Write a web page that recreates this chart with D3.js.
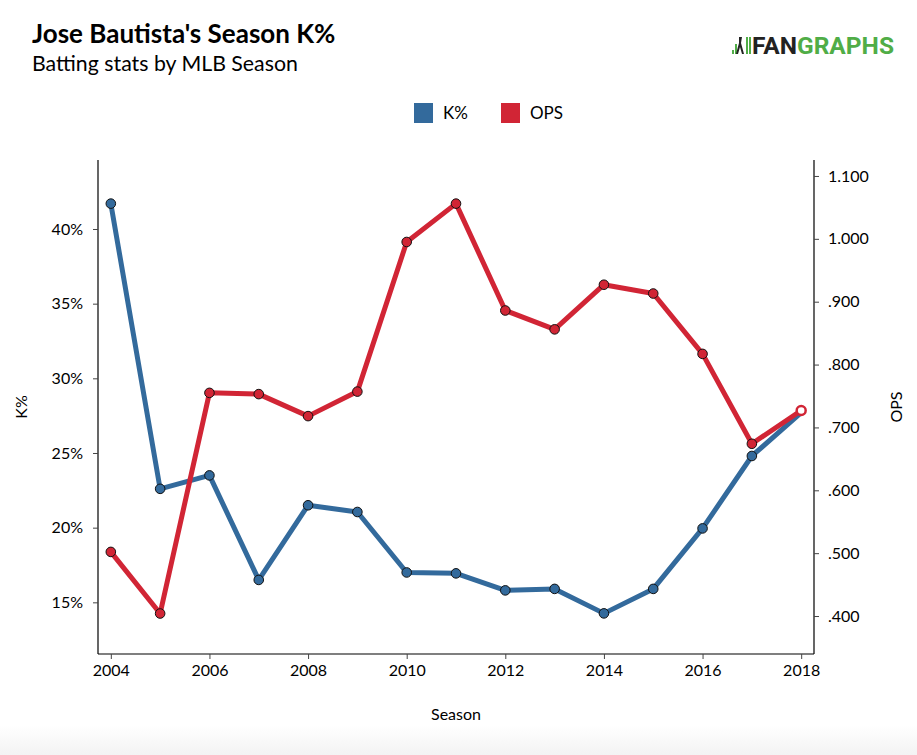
<!DOCTYPE html>
<html>
<head>
<meta charset="utf-8">
<script src="https://cdn.jsdelivr.net/npm/d3@7"></script>
<style>
  html, body { margin: 0; padding: 0; background: #fff; }
  svg { display: block; font-family: Lato, "Open Sans", sans-serif; }
</style>
</head>
<body>
<svg id="chart" width="917" height="755"></svg>
<script>
const seasons = [2004, 2005, 2006, 2007, 2008, 2009, 2010, 2011, 2012, 2013, 2014, 2015, 2016, 2017, 2018];
const kPct = [41.7, 22.6, 23.5, 16.5, 21.5, 21.05, 17.0, 16.94, 15.8, 15.9, 14.26, 15.9, 19.95, 24.8, 27.7];
const ops = [0.502, 0.404, 0.755, 0.753, 0.718, 0.757, 0.995, 1.056, 0.886, 0.856, 0.927, 0.913, 0.817, 0.674, 0.727];
const xTicks = [2004, 2006, 2008, 2010, 2012, 2014, 2016, 2018];
const kTicks = [15, 20, 25, 30, 35, 40];
const opsTicks = [0.4, 0.5, 0.6, 0.7, 0.8, 0.9, 1.0, 1.1];
const seriesNames = ["K%", "OPS"];
const colors = {"K%": "#336a9c", "OPS": "#d12535"};

const svg = d3.select("#chart");
const pLeft = 98, pRight = 814, pTop = 160, pBottom = 654;

// background gradient near bottom
const defs = svg.append("defs");
const grad = defs.append("linearGradient").attr("id", "bg").attr("x1", 0).attr("y1", 0).attr("x2", 0).attr("y2", 1);
grad.append("stop").attr("offset", "0%").attr("stop-color", "#ffffff");
grad.append("stop").attr("offset", "100%").attr("stop-color", "#f3f3f3");
svg.append("rect").attr("x", 0).attr("y", 725).attr("width", 917).attr("height", 30).attr("fill", "url(#bg)");

const x = d3.scaleLinear().domain([2003.74, 2018.26]).range([pLeft, pRight]);
const yK = d3.scaleLinear().domain([11.54, 44.62]).range([pBottom, pTop]);
const yO = d3.scaleLinear().domain([0.3396, 1.1254]).range([pBottom, pTop]);

// Title
svg.append("text").attr("x", 32).attr("y", 43).attr("font-size", 26).attr("font-weight", 700)
  .attr("fill", "#000").text("Jose Bautista's Season K%");
svg.append("text").attr("x", 32).attr("y", 71).attr("font-size", 21.3).attr("fill", "#000")
  .text("Batting stats by MLB Season");

// Logo
const logo = svg.append("g").attr("transform", "translate(731,35)");
logo.append("rect").attr("x", 1).attr("y", 15).attr("width", 2).attr("height", 4).attr("fill", "#50ad47");
logo.append("rect").attr("x", 4).attr("y", 9).attr("width", 2).attr("height", 10).attr("fill", "#50ad47");
logo.append("path").attr("d", "M8,2 L11,2 L10,8 L13,19 L11,19 L9,12 L7,19 L5,19 L8,8 Z").attr("fill", "#222");
logo.append("rect").attr("x", 15).attr("y", 2).attr("width", 2).attr("height", 17).attr("fill", "#50ad47");
logo.append("rect").attr("x", 18).attr("y", 2).attr("width", 2).attr("height", 17).attr("fill", "#50ad47");
const lt = logo.append("text").attr("x", 21).attr("y", 19).attr("font-size", 24).attr("font-weight", 700)
  .attr("font-family", "'Liberation Sans Narrow', 'Roboto', sans-serif")
  .attr("textLength", 142).attr("lengthAdjust", "spacingAndGlyphs");
lt.append("tspan").attr("fill", "#222").text("FAN");
lt.append("tspan").attr("fill", "#50ad47").text("GRAPHS");

// Legend
const legendItems = [{name: seriesNames[0], x: 414}, {name: seriesNames[1], x: 501}];
legendItems.forEach(d => {
  svg.append("rect").attr("x", d.x).attr("y", 103).attr("width", 19).attr("height", 20).attr("fill", colors[d.name]);
  svg.append("text").attr("x", d.x + 29).attr("y", 119).attr("font-size", 17).attr("fill", "#000").text(d.name);
});

// Axes
const fmtOps = v => v >= 1 ? d3.format(".3f")(v) : d3.format(".3f")(v).replace(/^0/, "");
const axL = svg.append("g").attr("transform", `translate(${pLeft},0)`)
  .call(d3.axisLeft(yK).tickValues(kTicks).tickSize(5).tickPadding(10).tickFormat(d => d + "%"));
const axR = svg.append("g").attr("transform", `translate(${pRight},0)`)
  .call(d3.axisRight(yO).tickValues(opsTicks).tickSize(5).tickPadding(9).tickFormat(fmtOps));
const axB = svg.append("g").attr("transform", `translate(0,${pBottom})`)
  .call(d3.axisBottom(x).tickValues(xTicks).tickSize(5).tickPadding(6).tickFormat(d3.format("d")));
[axL, axR, axB].forEach(a => {
  a.selectAll(".domain").attr("stroke", "#000").attr("stroke-width", 1.2);
  a.selectAll(".tick line").attr("stroke", "#444").attr("stroke-width", 1);
  a.selectAll(".tick text").attr("font-size", 16).attr("fill", "#000").attr("font-family", "Lato, sans-serif");
});
axL.select(".domain").attr("d", `M0,${pTop}V${pBottom}`);
axR.select(".domain").attr("d", `M0,${pTop}V${pBottom}`);
axB.select(".domain").attr("d", `M${pLeft},0H${pRight}`);

// Axis titles
svg.append("text").attr("transform", `translate(27,${(pTop + pBottom) / 2}) rotate(-90)`)
  .attr("text-anchor", "middle").attr("font-size", 16).attr("fill", "#000").text("K%");
svg.append("text").attr("transform", `translate(902,${(pTop + pBottom) / 2}) rotate(-90)`)
  .attr("text-anchor", "middle").attr("font-size", 16).attr("fill", "#000").text("OPS");
svg.append("text").attr("x", (pLeft + pRight) / 2).attr("y", 720)
  .attr("text-anchor", "middle").attr("font-size", 16).attr("fill", "#000").text("Season");

// Lines
const kData = seasons.map((s, i) => ({s, v: kPct[i]}));
const oData = seasons.map((s, i) => ({s, v: ops[i]}));
const lineK = d3.line().x(d => x(d.s)).y(d => yK(d.v));
const lineO = d3.line().x(d => x(d.s)).y(d => yO(d.v));

svg.append("path").datum(kData).attr("d", lineK).attr("fill", "none")
  .attr("stroke", colors["K%"]).attr("stroke-width", 5).attr("stroke-linejoin", "round");
svg.append("path").datum(oData).attr("d", lineO).attr("fill", "none")
  .attr("stroke", colors["OPS"]).attr("stroke-width", 5).attr("stroke-linejoin", "round");

// Markers
svg.append("g").selectAll("circle").data(kData.slice(0, -1)).join("circle")
  .attr("cx", d => x(d.s)).attr("cy", d => yK(d.v)).attr("r", 4.8)
  .attr("fill", colors["K%"]).attr("stroke", "#111").attr("stroke-width", 1);
svg.append("g").selectAll("circle").data(oData.slice(0, -1)).join("circle")
  .attr("cx", d => x(d.s)).attr("cy", d => yO(d.v)).attr("r", 4.8)
  .attr("fill", colors["OPS"]).attr("stroke", "#111").attr("stroke-width", 1);
const last = oData[oData.length - 1];
svg.append("circle").attr("cx", x(last.s)).attr("cy", yO(last.v)).attr("r", 4.5)
  .attr("fill", "#fff").attr("stroke", colors["OPS"]).attr("stroke-width", 2.5);
</script>
</body>
</html>
